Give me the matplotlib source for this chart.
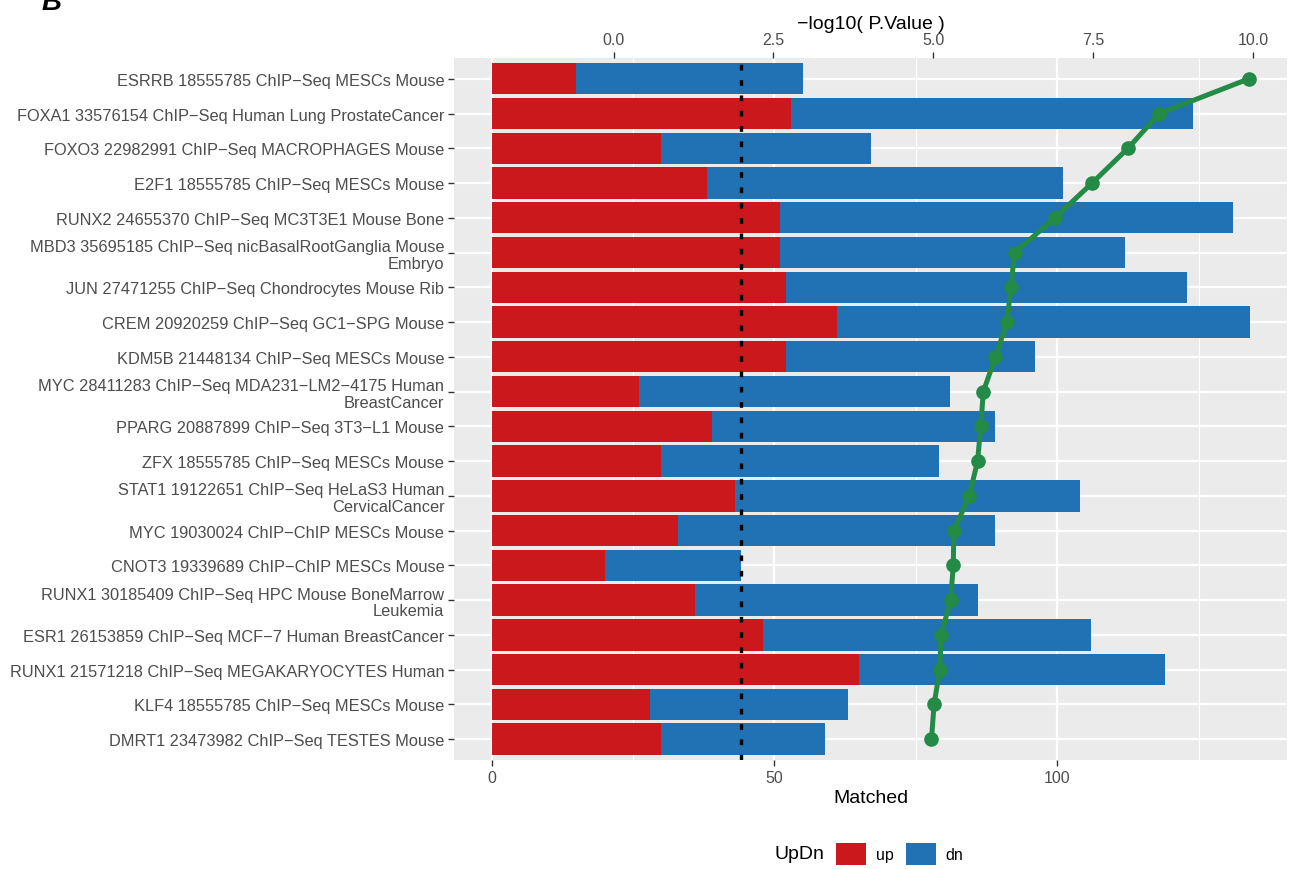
import matplotlib
matplotlib.use("Agg")
import matplotlib.pyplot as plt
from matplotlib.patches import Patch
import numpy as np

plt.rcParams['font.family'] = ['Liberation Sans', 'DejaVu Sans']

terms = [
    "ESRRB 18555785 ChIP\u2212Seq MESCs Mouse",
    "FOXA1 33576154 ChIP\u2212Seq Human Lung ProstateCancer",
    "FOXO3 22982991 ChIP\u2212Seq MACROPHAGES Mouse",
    "E2F1 18555785 ChIP\u2212Seq MESCs Mouse",
    "RUNX2 24655370 ChIP\u2212Seq MC3T3E1 Mouse Bone",
    "MBD3 35695185 ChIP\u2212Seq nicBasalRootGanglia Mouse\nEmbryo",
    "JUN 27471255 ChIP\u2212Seq Chondrocytes Mouse Rib",
    "CREM 20920259 ChIP\u2212Seq GC1\u2212SPG Mouse",
    "KDM5B 21448134 ChIP\u2212Seq MESCs Mouse",
    "MYC 28411283 ChIP\u2212Seq MDA231\u2212LM2\u22124175 Human\nBreastCancer",
    "PPARG 20887899 ChIP\u2212Seq 3T3\u2212L1 Mouse",
    "ZFX 18555785 ChIP\u2212Seq MESCs Mouse",
    "STAT1 19122651 ChIP\u2212Seq HeLaS3 Human\nCervicalCancer",
    "MYC 19030024 ChIP\u2212ChIP MESCs Mouse",
    "CNOT3 19339689 ChIP\u2212ChIP MESCs Mouse",
    "RUNX1 30185409 ChIP\u2212Seq HPC Mouse BoneMarrow\nLeukemia",
    "ESR1 26153859 ChIP\u2212Seq MCF\u22127 Human BreastCancer",
    "RUNX1 21571218 ChIP\u2212Seq MEGAKARYOCYTES Human",
    "KLF4 18555785 ChIP\u2212Seq MESCs Mouse",
    "DMRT1 23473982 ChIP\u2212Seq TESTES Mouse",
]
up = [15, 53, 30, 38, 51, 51, 52, 61, 52, 26, 39, 30, 43, 33, 20, 36, 48, 65, 28, 30]
dn = [40, 71, 37, 63, 80, 61, 71, 73, 44, 55, 50, 49, 61, 56, 24, 50, 58, 54, 35, 29]
logp = [9.93, 8.53, 8.04, 7.48, 6.90, 6.27, 6.21, 6.15, 5.97, 5.78,
        5.74, 5.69, 5.56, 5.32, 5.31, 5.27, 5.12, 5.10, 5.01, 4.97]
p_cut = 2.0

RED = "#CB181D"
BLUE = "#2171B5"
GREEN = "#238B45"

# -log10(p) is drawn on the Matched scale
OFFSET, SCALE = 21.55, 11.31
def p2m(p):
    return OFFSET + SCALE * np.asarray(p)
def m2p(m):
    return (np.asarray(m) - OFFSET) / SCALE

fig = plt.figure(figsize=(12.92, 8.70), dpi=100)
ax = fig.add_axes([0.3514, 0.1253, 0.6447, 0.8069])
ax.set_facecolor("#EBEBEB")
for s in ax.spines.values():
    s.set_visible(False)

y = np.arange(len(terms))
ax.set_xlim(-6.65, 140.6)
ax.set_ylim(len(terms) - 0.4, -0.6)

for xv in [25, 75, 125]:
    ax.axvline(xv, color="white", lw=0.8, zorder=0)
for xv in [0, 50, 100]:
    ax.axvline(xv, color="white", lw=1.6, zorder=0)
for yv in y:
    ax.axhline(yv, color="white", lw=1.6, zorder=0)

ax.barh(y, up, height=0.9, color=RED, zorder=2)
ax.barh(y, dn, left=up, height=0.9, color=BLUE, zorder=2)
ax.axvline(p2m(p_cut), color="black", lw=2.4, linestyle=(0, (1.7, 2.9)), zorder=3)
ax.plot(p2m(logp), y, color=GREEN, lw=3.6, marker="o", markersize=9.5, zorder=4)

ax.set_yticks(y)
ax.set_yticklabels(terms, fontsize=11.8, color="#4D4D4D", linespacing=1.12)
ax.set_xticks([0, 50, 100])
ax.tick_params(axis="both", length=4, width=1, color="#333333", pad=3)
ax.tick_params(axis="x", labelsize=11.5, labelcolor="#4D4D4D")
ax.set_xlabel("Matched", fontsize=14, labelpad=3)

sec = ax.secondary_xaxis("top", functions=(m2p, p2m))
for s in sec.spines.values():
    s.set_visible(False)
sec.set_xticks([0, 2.5, 5, 7.5, 10])
sec.set_xticklabels(["0.0", "2.5", "5.0", "7.5", "10.0"])
sec.tick_params(axis="x", length=4, width=1, color="#333333", pad=4,
                labelsize=11.5, labelcolor="#4D4D4D")
sec.set_xlabel("\u2212log10( P.Value )", fontsize=14, labelpad=3)

fig.text(42 / 1292, 1 - 10 / 870, "B", fontsize=20, fontweight="bold",
         fontstyle="italic", va="baseline", ha="left")

fig.text(774 / 1292, 15 / 870, "UpDn", fontsize=14, va="center", ha="left")
handles = [Patch(facecolor=RED), Patch(facecolor=BLUE)]
fig.legend(handles, ["up", "dn"], loc="center left", bbox_to_anchor=(836 / 1292, 15 / 870),
           ncol=2, frameon=False, fontsize=11.5, handlelength=1.9, handleheight=1.7,
           handletextpad=0.6, columnspacing=0.75, borderpad=0, borderaxespad=0)

fig.savefig("out.png", dpi=100)
